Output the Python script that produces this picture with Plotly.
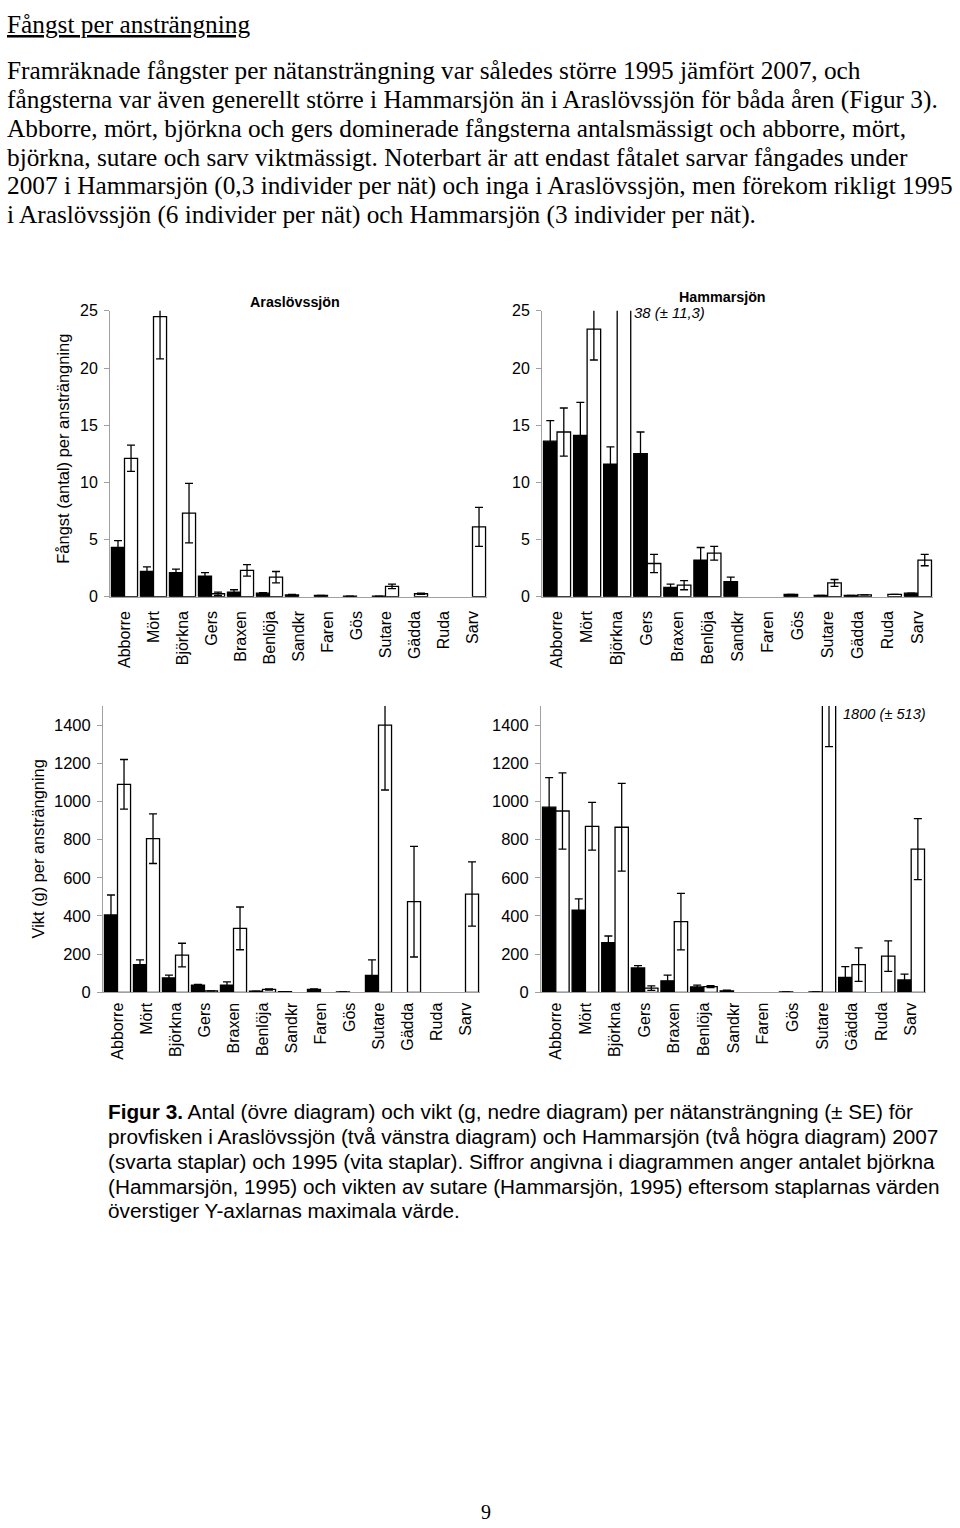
import plotly.graph_objects as go

W, H = 960, 1528

species = ["Abborre", "Mört", "Björkna", "Gers", "Braxen", "Benlöja", "Sandkr",
           "Faren", "Gös", "Sutare", "Gädda", "Ruda", "Sarv"]

# Antal per ansträngning – Araslövssjön
ara_n_2007 = [4.3, 2.2, 2.1, 1.8, 0.4, 0.3, 0.15, 0.1, 0.05, 0.05, 0, 0, 0]
ara_n_2007_se = [0.6, 0.4, 0.3, 0.3, 0.2, 0.05, 0.05, 0, 0, 0, 0, 0, 0]
ara_n_1995 = [12.1, 24.5, 7.3, 0.25, 2.3, 1.7, 0, 0, 0, 0.9, 0.25, 0, 6.1]
ara_n_1995_se = [1.15, 3.7, 2.6, 0.15, 0.5, 0.5, 0, 0, 0, 0.2, 0.05, 0, 1.7]

# Antal per ansträngning – Hammarsjön
ham_n_2007 = [13.6, 14.1, 11.6, 12.5, 0.8, 3.2, 1.3, 0, 0.2, 0.1, 0.1, 0, 0.3]
ham_n_2007_se = [1.8, 2.9, 1.5, 1.9, 0.3, 1.1, 0.4, 0, 0, 0, 0, 0, 0]
ham_n_1995 = [14.4, 23.4, 38, 2.9, 1.0, 3.8, 0, 0, 0, 1.2, 0.15, 0.2, 3.2]
ham_n_1995_se = [2.1, 2.7, 11.3, 0.8, 0.4, 0.6, 0, 0, 0, 0.3, 0, 0, 0.5]

# Vikt (g) per ansträngning – Araslövssjön
ara_w_2007 = [405, 145, 75, 38, 38, 6, 3, 15, 2, 88, 0, 0, 0]
ara_w_2007_se = [105, 25, 15, 4, 17, 0, 0, 3, 0, 82, 0, 0, 0]
ara_w_1995 = [1090, 805, 195, 8, 335, 15, 0, 0, 0, 1400, 475, 0, 515]
ara_w_1995_se = [130, 130, 62, 0, 112, 3, 0, 0, 0, 340, 290, 0, 168]

# Vikt (g) per ansträngning – Hammarsjön
ham_w_2007 = [970, 430, 260, 128, 60, 28, 8, 0, 2, 2, 78, 0, 65]
ham_w_2007_se = [155, 60, 35, 12, 30, 10, 3, 0, 0, 0, 57, 0, 30]
ham_w_1995 = [950, 870, 865, 22, 370, 30, 0, 0, 0, 1800, 145, 190, 750]
ham_w_1995_se = [200, 125, 230, 12, 148, 5, 0, 0, 0, 513, 88, 80, 160]

count_ticks = [0, 5, 10, 15, 20, 25]
weight_ticks = [0, 200, 400, 600, 800, 1000, 1200, 1400]

SANS = "Liberation Sans, Arial, sans-serif"
SERIF = "Liberation Serif, Times New Roman, serif"
AXC = "#a0a0a0"

# the page is photographed with an 8px top offset and a slight vertical squeeze;
# convert target page positions into figure positions accordingly
VSCALE = 1544 / 1528
VOFF = 8


def px(x):
    return x / W


def py(y):
    fy = y * VSCALE - VOFF
    return 1 - fy / H


def nz(vals):
    return [v if v else None for v in vals]


fig = go.Figure()

panels = [
    ("x", "y", ara_n_2007, ara_n_2007_se, ara_n_1995, ara_n_1995_se),
    ("x2", "y2", ham_n_2007, ham_n_2007_se, ham_n_1995, ham_n_1995_se),
    ("x3", "y3", ara_w_2007, ara_w_2007_se, ara_w_1995, ara_w_1995_se),
    ("x4", "y4", ham_w_2007, ham_w_2007_se, ham_w_1995, ham_w_1995_se),
]

for xa, ya, v07, s07, v95, s95 in panels:
    fig.add_trace(go.Bar(
        x=species, y=nz(v07), xaxis=xa, yaxis=ya, name="2007",
        marker=dict(color="black", line=dict(color="black", width=1.3)),
        error_y=dict(type="data", array=nz(s07),
                     arrayminus=[min(s, v) if s else None for s, v in zip(s07, v07)],
                     color="black", thickness=1.3, width=4),
        hoverinfo="skip",
    ))
    fig.add_trace(go.Bar(
        x=species, y=nz(v95), xaxis=xa, yaxis=ya, name="1995",
        marker=dict(color="white", line=dict(color="black", width=1.3)),
        error_y=dict(type="data", array=nz(s95),
                     color="black", thickness=1.3, width=4),
        hoverinfo="skip",
    ))


def xcommon(standoff):
    return dict(showline=True, linecolor=AXC, linewidth=1, ticks="", tickangle=-90,
                tickfont=dict(family=SANS, size=16, color="black"),
                showgrid=False, zeroline=False, fixedrange=True,
                ticklabelstandoff=standoff)


def ycommon(size):
    return dict(showline=True, linecolor=AXC, linewidth=1, ticks="outside", ticklen=5,
                tickcolor=AXC, tickfont=dict(family=SANS, size=size, color="black"),
                showgrid=False, zeroline=False, fixedrange=True, ticklabelstandoff=3)


top_dom = [py(597), py(311)]
bot_dom = [py(993), py(706.5)]

fig.update_layout(
    width=W, height=H,
    margin=dict(l=0, r=0, t=0, b=0),
    paper_bgcolor="white", plot_bgcolor="white",
    showlegend=False,
    barmode="group", bargap=0.1, bargroupgap=0,
    xaxis=dict(domain=[px(110), px(487)], anchor="y", **xcommon(7)),
    yaxis=dict(domain=top_dom, anchor="x", range=[0, 25], tickvals=count_ticks, **ycommon(16)),
    xaxis2=dict(domain=[px(542), px(933)], anchor="y2", **xcommon(7)),
    yaxis2=dict(domain=top_dom, anchor="x2", range=[0, 25], tickvals=count_ticks, **ycommon(16)),
    xaxis3=dict(domain=[px(103), px(480)], anchor="y3", **xcommon(3)),
    yaxis3=dict(domain=bot_dom, anchor="x3", range=[0, 1500], tickvals=weight_ticks, **ycommon(16.5)),
    xaxis4=dict(domain=[px(541), px(926)], anchor="y4", **xcommon(3)),
    yaxis4=dict(domain=bot_dom, anchor="x4", range=[0, 1500], tickvals=weight_ticks, **ycommon(16.5)),
)

ann = []


def add_text(text, x, y, size, family, xanchor="left", yanchor="middle", angle=0, yref_top=False):
    ann.append(dict(text=text, x=px(x), y=1 if yref_top else py(y), xref="paper", yref="paper",
                    xanchor=xanchor, yanchor=yanchor, showarrow=False, textangle=angle,
                    font=dict(family=family, size=size, color="black")))


# Page text (heading pinned to the very top so that it is not clipped)
add_text("<u>Fångst per ansträngning</u>", 5, 0, 25.3, SERIF, yanchor="top", yref_top=True)
body = [
    "Framräknade fångster per nätansträngning var således större 1995 jämfört 2007, och",
    "fångsterna var även generellt större i Hammarsjön än i Araslövssjön för båda åren (Figur 3).",
    "Abborre, mört, björkna och gers dominerade fångsterna antalsmässigt och abborre, mört,",
    "björkna, sutare och sarv viktmässigt. Noterbart är att endast fåtalet sarvar fångades under",
    "2007 i Hammarsjön (0,3 individer per nät) och inga i Araslövssjön, men förekom rikligt 1995",
    "i Araslövssjön (6 individer per nät) och Hammarsjön (3 individer per nät).",
]
body_y = [70, 99, 128, 157, 186, 215]
for t, y in zip(body, body_y):
    add_text(t, 5, y, 25.3, SERIF)

# Chart titles and notes
add_text("<b>Araslövssjön</b>", 295, 302, 14.3, SANS, xanchor="center")
add_text("<b>Hammarsjön</b>", 722, 297, 14.3, SANS, xanchor="center")
add_text("<i>38 (± 11,3)</i>", 632, 313, 14.9, SANS)
add_text("<i>1800 (± 513)</i>", 841, 714, 14.6, SANS)

# Axis titles
add_text("Fångst (antal) per ansträngning", 63, 449, 16.5, SANS, xanchor="center", angle=-90)
add_text("Vikt (g) per ansträngning", 38, 850, 16.4, SANS, xanchor="center", angle=-90)

# Caption
caption = [
    "<b>Figur 3.</b> Antal (övre diagram) och vikt (g, nedre diagram) per nätansträngning (± SE) för",
    "provfisken i Araslövssjön (två vänstra diagram) och Hammarsjön (två högra diagram) 2007",
    "(svarta staplar) och 1995 (vita staplar). Siffror angivna i diagrammen anger antalet björkna",
    "(Hammarsjön, 1995) och vikten av sutare (Hammarsjön, 1995) eftersom staplarnas värden",
    "överstiger Y-axlarnas maximala värde.",
]
cap_y = [1112, 1137, 1162, 1187, 1211]
for t, y in zip(caption, cap_y):
    add_text(t, 106, y, 20.75, SANS)

add_text("9", 486, 1513, 20, SERIF, xanchor="center")

fig.update_layout(annotations=ann)

POST = (
    "document.documentElement.style.margin='0px';"
    "document.body.style.margin='0px';"
    "document.documentElement.style.overflow='hidden';"
)

fig.write_html("out.html", config={"displayModeBar": False}, post_script=POST)
